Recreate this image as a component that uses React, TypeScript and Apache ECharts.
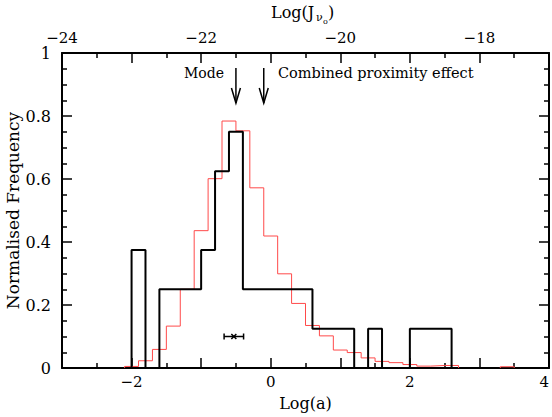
import React, { useEffect, useRef } from "react";
import * as echarts from "echarts";

// Histogram of the sample (black): bin edges and normalised frequencies
const blackBinEdges = [
  -2.0, -1.8, -1.6, -1.4, -1.2, -1.0, -0.8, -0.6, -0.4, -0.2, 0.0, 0.2, 0.4,
  0.6, 0.8, 1.0, 1.2, 1.4, 1.6, 1.8, 2.0, 2.2, 2.4, 2.6,
];
const blackValues = [
  0.375, 0, 0.25, 0.25, 0.25, 0.375, 0.625, 0.75, 0.25, 0.25, 0.25, 0.25, 0.25,
  0.125, 0.125, 0.125, 0, 0.125, 0, 0, 0.125, 0.125, 0.125,
];

// Comparison histogram (red)
const redBinEdges = [
  -2.1, -1.9, -1.7, -1.5, -1.3, -1.1, -0.9, -0.7, -0.5, -0.3, -0.1, 0.1, 0.3,
  0.5, 0.7, 0.9, 1.1, 1.3, 1.5, 1.7, 1.9, 2.1, 2.3, 2.5, 2.7, 2.9, 3.1, 3.3, 3.5,
];
const redValues = [
  0.005, 0.023, 0.059, 0.133, 0.25, 0.436, 0.601, 0.784, 0.753, 0.572, 0.419,
  0.299, 0.205, 0.135, 0.102, 0.057, 0.049, 0.032, 0.021, 0.017, 0.011, 0.006,
  0.008, 0.008, 0, 0, 0, 0.004,
];

// Arrows: [x, yTop, yTip]
const arrowMarks = [
  [-0.5, 0.952, 0.841],
  [-0.1, 0.952, 0.841],
];
// Error bar: [xCenter, y, xLow, xHigh]
const errorBar = [[-0.53, 0.1, -0.67, -0.39]];

const xTicks = { min: -3, max: 4, interval: 1 };
const topTicks = { min: -24, max: -17, interval: 1 };
const yTicks = { min: 0, max: 1, interval: 0.2 };

const FONT = '"DejaVu Serif", serif';
const MINUS = "\u2212";

function stepSegments(edges: number[], values: number[], breakOnZero: boolean) {
  const segs: number[][][] = [];
  let cur: number[][] = [];
  for (let i = 0; i < values.length; i++) {
    const v = values[i];
    if (breakOnZero && v === 0) {
      if (cur.length) {
        cur.push([edges[i], 0]);
        segs.push(cur);
        cur = [];
      }
      continue;
    }
    if (!cur.length) cur.push([edges[i], 0]);
    cur.push([edges[i], v]);
    cur.push([edges[i + 1], v]);
  }
  if (cur.length) {
    cur.push([edges[values.length], 0]);
    segs.push(cur);
  }
  return segs;
}

const fmt = (v: number) => {
  const s = String(Math.round(v * 10) / 10);
  return s.replace("-", MINUS);
};

export default function App() {
  const ref = useRef<HTMLDivElement>(null);
  useEffect(() => {
    if (!ref.current) return;
    const chart = echarts.init(ref.current, null, { renderer: "svg" });
    const axisCommon = {
      axisLine: { show: true, onZero: false, lineStyle: { color: "#000", width: 2 } },
      axisTick: { show: true, inside: true, length: 10, lineStyle: { color: "#000", width: 1.5 } },
      minorTick: { show: true, length: 5, lineStyle: { color: "#000", width: 1.5 } },
      splitLine: { show: false },
      minorSplitLine: { show: false },
    };
    const labelStyle = { color: "#000", fontFamily: FONT, fontSize: 15, lineHeight: 12 };

    const redSegs = stepSegments(redBinEdges, redValues, true);
    const blackSegs = stepSegments(blackBinEdges, blackValues, false);

    const series: any[] = [];
    redSegs.forEach((seg) =>
      series.push({
        type: "line",
        data: seg,
        symbol: "none",
        lineStyle: { color: "#ff4a4a", width: 1 },
        z: 2,
      })
    );
    blackSegs.forEach((seg) =>
      series.push({
        type: "line",
        data: seg,
        symbol: "none",
        lineStyle: { color: "#000", width: 2 },
        z: 3,
      })
    );
    series.push({
      type: "custom",
      data: arrowMarks,
      encode: { x: [0], y: [1, 2] },
      z: 4,
      renderItem: (params: any, api: any) => {
        const x = api.value(0);
        const p1 = api.coord([x, api.value(1)]);
        const p2 = api.coord([x, api.value(2)]);
        return {
          type: "group",
          children: [
            {
              type: "line",
              shape: { x1: p1[0], y1: p1[1], x2: p2[0], y2: p2[1] },
              style: { stroke: "#000", lineWidth: 1.5 },
            },
            {
              type: "polyline",
              shape: {
                points: [
                  [p2[0] - 4.5, p2[1] - 15],
                  [p2[0], p2[1]],
                  [p2[0] + 4.5, p2[1] - 15],
                ],
              },
              style: { stroke: "#000", fill: null, lineWidth: 1.5 },
            },
          ],
        };
      },
    });
    series.push({
      type: "custom",
      data: errorBar,
      encode: { x: [0, 2, 3], y: [1] },
      z: 4,
      renderItem: (params: any, api: any) => {
        const c = api.coord([api.value(0), api.value(1)]);
        const lo = api.coord([api.value(2), api.value(1)]);
        const hi = api.coord([api.value(3), api.value(1)]);
        const st = { stroke: "#000", lineWidth: 1.5 };
        return {
          type: "group",
          children: [
            { type: "line", shape: { x1: lo[0], y1: lo[1], x2: hi[0], y2: hi[1] }, style: st },
            { type: "line", shape: { x1: lo[0], y1: lo[1] - 3, x2: lo[0], y2: lo[1] + 3 }, style: st },
            { type: "line", shape: { x1: hi[0], y1: hi[1] - 3, x2: hi[0], y2: hi[1] + 3 }, style: st },
            { type: "line", shape: { x1: c[0] - 2.5, y1: c[1] - 2.5, x2: c[0] + 2.5, y2: c[1] + 2.5 }, style: st },
            { type: "line", shape: { x1: c[0] - 2.5, y1: c[1] + 2.5, x2: c[0] + 2.5, y2: c[1] - 2.5 }, style: st },
          ],
        };
      },
    });

    chart.setOption({
      animation: false,
      backgroundColor: "#fff",
      grid: { left: 62, right: 3, top: 53, bottom: 49, containLabel: false, outerBoundsMode: "none" },
      xAxis: [
        {
          type: "value",
          position: "bottom",
          ...xTicks,
          ...axisCommon,
          minorTick: { ...axisCommon.minorTick, splitNumber: 2 },
          axisLabel: {
            ...labelStyle,
            margin: 8,
            showMinLabel: true,
            showMaxLabel: true,
            alignMaxLabel: "right",
            formatter: (v: number) => (Math.round(v) % 2 === 0 ? fmt(v) : ""),
          },
          name: "Log(a)",
          nameLocation: "middle",
          nameGap: 27,
          nameMoveOverlap: false,
          nameTextStyle: { color: "#000", fontFamily: FONT, fontSize: 16 },
        },
        {
          type: "value",
          position: "top",
          ...topTicks,
          ...axisCommon,
          minorTick: { ...axisCommon.minorTick, splitNumber: 2 },
          axisLabel: {
            ...labelStyle,
            margin: 9,
            showMinLabel: true,
            showMaxLabel: true,
            formatter: (v: number) => (Math.round(v) % 2 === 0 ? fmt(v) : ""),
          },
        },
      ],
      yAxis: [
        {
          type: "value",
          position: "left",
          ...yTicks,
          ...axisCommon,
          minorTick: { ...axisCommon.minorTick, splitNumber: 4 },
          axisLabel: { ...labelStyle, fontSize: 16, margin: 11, formatter: (v: number) => fmt(v) },
          name: "Normalised Frequency",
          nameLocation: "middle",
          nameGap: 40,
          nameRotate: 90,
          nameMoveOverlap: false,
          nameTextStyle: { color: "#000", fontFamily: FONT, fontSize: 17, lineHeight: 18 },
        },
        {
          type: "value",
          position: "right",
          ...yTicks,
          ...axisCommon,
          minorTick: { ...axisCommon.minorTick, splitNumber: 4 },
          axisLabel: { show: false },
        },
      ],
      graphic: [
        { type: "text", x: 271, y: 12, style: { text: "Log(J", fill: "#000", fontFamily: FONT, fontSize: 16, textAlign: "left", textVerticalAlign: "middle" } },
        { type: "text", x: 316, y: 17, style: { text: "\u03bd", fill: "#000", fontFamily: FONT, fontSize: 11, textAlign: "left", textVerticalAlign: "middle" } },
        { type: "text", x: 323, y: 21, style: { text: "o", fill: "#000", fontFamily: FONT, fontSize: 8, textAlign: "left", textVerticalAlign: "middle" } },
        { type: "text", x: 328, y: 12, style: { text: ")", fill: "#000", fontFamily: FONT, fontSize: 16, textAlign: "left", textVerticalAlign: "middle" } },
        { type: "text", x: 184, y: 73, style: { text: "Mode", fill: "#000", fontFamily: FONT, fontSize: 14, textAlign: "left", textVerticalAlign: "middle" } },
        { type: "text", x: 278, y: 73, style: { text: "Combined proximity effect", fill: "#000", fontFamily: FONT, fontSize: 14.5, textAlign: "left", textVerticalAlign: "middle" } },
      ],
      series,
    });
    return () => chart.dispose();
  }, []);
  return (
    <div
      ref={ref}
      style={{ position: "absolute", left: 0, top: 0, width: 552, height: 417 }}
    />
  );
}
